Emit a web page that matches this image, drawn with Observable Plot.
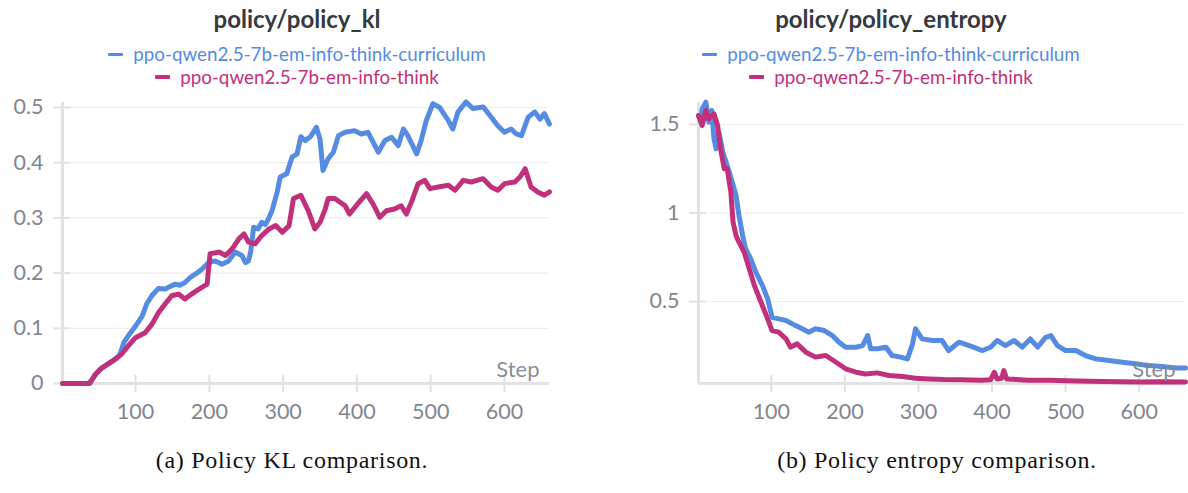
<!DOCTYPE html>
<html><head><meta charset="utf-8">
<script src="https://cdn.jsdelivr.net/npm/d3@7"></script>
<script src="https://cdn.jsdelivr.net/npm/@observablehq/plot@0.6"></script>
<style>
body{margin:0;background:#fff;}
#wrap{position:relative;width:1188px;height:493px;overflow:hidden;font-family:Lato,sans-serif;background:#fff;}
.panel{position:absolute;top:0;width:594px;height:493px;}
.title{position:absolute;top:5px;left:0;width:100%;text-align:center;font-weight:700;font-size:24px;line-height:28px;color:#363a40;}
.legend{position:absolute;top:43px;left:0;width:100%;display:flex;flex-direction:column;align-items:center;font-size:18.8px;line-height:22.5px;}
.legend .row{display:flex;align-items:center;white-space:nowrap;}
.legend .sw{display:inline-block;width:15px;height:3.5px;margin-right:10px;border-radius:1px;}
.chart{position:absolute;top:90px;left:0;}
.caption{position:absolute;top:446px;font-family:"Liberation Serif",serif;font-size:24px;letter-spacing:0.7px;line-height:28px;color:#111;white-space:nowrap;transform:translateX(-50%);}
</style>
</head><body>
<div id="wrap">
  <div class="panel" id="pa" style="left:0">
    <div class="title">policy/policy_kl</div>
    <div class="legend" id="lega"></div>
    <div class="chart" id="ca"></div>
  </div>
  <div class="panel" id="pb" style="left:594px">
    <div class="title">policy/policy_entropy</div>
    <div class="legend" id="legb"></div>
    <div class="chart" id="cb"></div>
  </div>
  <div class="caption" style="left:292px">(a) Policy KL comparison.</div>
  <div class="caption" style="left:937px">(b) Policy entropy comparison.</div>
</div>
<script>
// ---- series names and colours ----
const seriesNames = ["ppo-qwen2.5-7b-em-info-think-curriculum", "ppo-qwen2.5-7b-em-info-think"];
const seriesColors = ["#558be3", "#c1307a"];

// ---- policy_kl ----
const klCurriculumSteps = [1,36,41,47,54,60,68,74,79,84,90,100,109,115,122,131,140,147,154,160,167,174,181,190,199,208,217,226,235,244,249,253,256,260,266,271,276,281,285,292,296,305,312,319,324,330,337,345,350,354,361,368,375,384,397,406,415,422,429,438,447,456,463,469,481,487,494,503,512,524,530,537,548,557,571,580,591,600,609,616,623,632,641,648,654,661];
const klCurriculum = [0,0,0.007,0.018,0.028,0.033,0.04,0.045,0.053,0.074,0.086,0.104,0.122,0.144,0.159,0.172,0.171,0.176,0.18,0.178,0.183,0.192,0.198,0.207,0.219,0.222,0.216,0.222,0.238,0.232,0.219,0.222,0.238,0.283,0.28,0.292,0.288,0.301,0.313,0.347,0.374,0.38,0.41,0.416,0.447,0.44,0.447,0.464,0.443,0.386,0.407,0.419,0.449,0.455,0.458,0.452,0.455,0.437,0.419,0.44,0.446,0.431,0.461,0.449,0.416,0.44,0.476,0.507,0.5,0.476,0.461,0.492,0.51,0.498,0.501,0.486,0.467,0.455,0.461,0.452,0.449,0.482,0.492,0.479,0.489,0.47];
const klThinkSteps = [1,38,45,54,68,81,90,100,113,122,131,140,149,158,167,176,186,197,201,213,222,231,240,247,253,262,271,281,290,299,308,314,324,334,343,350,357,361,370,384,390,399,413,422,431,440,451,460,467,474,483,492,499,510,524,533,544,555,571,582,591,600,614,621,628,636,645,654,661];
const klThink = [0,0,0.016,0.028,0.04,0.053,0.068,0.083,0.092,0.107,0.128,0.144,0.159,0.162,0.153,0.162,0.171,0.18,0.235,0.238,0.232,0.244,0.262,0.271,0.256,0.253,0.268,0.28,0.286,0.274,0.286,0.335,0.341,0.313,0.28,0.292,0.316,0.335,0.335,0.322,0.307,0.322,0.344,0.325,0.301,0.313,0.316,0.322,0.307,0.329,0.362,0.368,0.353,0.356,0.359,0.35,0.368,0.365,0.371,0.356,0.35,0.362,0.365,0.374,0.389,0.356,0.347,0.341,0.347];
const klXTicks = [100,200,300,400,500,600];
const klYTicks = [0,0.1,0.2,0.3,0.4,0.5];

// ---- policy_entropy ----
const entCurriculumSteps = [1,4,6,11,15,19,22,25,29,34,40,47,52,56,61,65,72,79,88,95,101,110,120,133,142,151,160,172,183,192,201,215,224,231,235,244,256,264,276,285,292,296,305,319,332,341,355,369,387,398,407,418,430,441,452,462,473,480,489,500,514,527,541,559,577,595,613,631,650,663];
const entCurriculum = [1.55,1.532,1.588,1.626,1.513,1.579,1.419,1.362,1.45,1.344,1.268,1.174,1.099,0.986,0.873,0.798,0.741,0.666,0.59,0.515,0.411,0.402,0.393,0.364,0.346,0.327,0.346,0.336,0.308,0.27,0.242,0.242,0.251,0.308,0.233,0.233,0.242,0.195,0.186,0.176,0.261,0.346,0.289,0.28,0.28,0.223,0.27,0.251,0.223,0.242,0.28,0.251,0.28,0.242,0.289,0.242,0.298,0.308,0.251,0.223,0.223,0.195,0.176,0.167,0.157,0.148,0.138,0.133,0.125,0.125];
const entThinkSteps = [1,6,11,15,22,27,31,36,40,45,48,52,56,63,70,77,86,95,101,110,120,126,135,147,160,174,188,201,215,228,244,260,278,296,314,335,360,385,398,403,407,413,416,420,450,480,500,550,600,630,663];
const entThink = [1.55,1.494,1.579,1.532,1.56,1.494,1.362,1.25,1.25,1.118,0.948,0.873,0.835,0.779,0.685,0.59,0.496,0.402,0.336,0.327,0.289,0.242,0.261,0.214,0.186,0.195,0.157,0.12,0.101,0.091,0.097,0.082,0.076,0.067,0.063,0.059,0.058,0.056,0.058,0.1,0.062,0.066,0.11,0.062,0.056,0.055,0.052,0.048,0.045,0.047,0.045];
const entXTicks = [100,200,300,400,500,600];
const entYTicks = [0.5,1,1.5];

const AXIS = "#e2e2e5", GRID = "#ededee", LABEL = "#7f8691";

function toRows(steps, values){ return steps.map((s,i)=>({step:s, value:values[i]})); }

function legend(el){
  seriesNames.forEach((n,i)=>{
    const row = document.createElement("div"); row.className="row"; row.style.color = seriesColors[i];
    const sw = document.createElement("span"); sw.className="sw"; sw.style.background = seriesColors[i];
    row.appendChild(sw); row.appendChild(document.createTextNode(n)); el.appendChild(row);
  });
}

function chart({curr, think, xDomain, yDomain, xTicks, yTicks, marginLeft, marginRight}){
  return Plot.plot({
    width: 594, height: 345, marginLeft, marginRight, marginTop: 12, marginBottom: 52,
    x: {domain: xDomain},
    y: {domain: yDomain},
    style: {fontFamily: "Lato, sans-serif", fontSize: "21px", background: "transparent"},
    marks: [
      Plot.gridY(yTicks.filter(t=>t>yDomain[0]), {stroke: GRID, strokeOpacity: 1, strokeWidth: 1.2}),
      Plot.ruleX([xDomain[0]], {stroke: AXIS, strokeWidth: 3}),
      Plot.ruleY([yDomain[0]], {stroke: AXIS, strokeWidth: 3}),
      Plot.ruleX(xTicks, {x: d=>d, y1: yDomain[0], y2: yDomain[0], insetTop: -8, insetBottom: -9, stroke: AXIS, strokeWidth: 2}),
      Plot.ruleY(yTicks, {y: d=>d, x1: xDomain[0], x2: xDomain[0], insetLeft: -9, insetRight: -8, stroke: AXIS, strokeWidth: 2}),
      Plot.line(curr, {x: "step", y: "value", stroke: seriesColors[0], strokeWidth: 5, strokeLinecap: "round", strokeLinejoin: "round"}),
      Plot.line(think, {x: "step", y: "value", stroke: seriesColors[1], strokeWidth: 5, strokeLinecap: "round", strokeLinejoin: "round"}),
      Plot.axisX(xTicks, {tickSize: 0, tickPadding: 20, fontSize: 21.5, color: LABEL, label: null, tickFormat: d => String(d)}),
      Plot.axisY(yTicks, {tickSize: 0, tickPadding: 19, fontSize: 21.5, color: LABEL, label: null, tickFormat: d => String(d)}),
      Plot.text(["Step"], {frameAnchor: "bottom-right", dx: -10, dy: -7, lineAnchor: "bottom", fill: LABEL, fillOpacity: 0.95, fontSize: 22})
    ]
  });
}

legend(document.getElementById("lega"));
legend(document.getElementById("legb"));

document.getElementById("ca").appendChild(chart({
  curr: toRows(klCurriculumSteps, klCurriculum), think: toRows(klThinkSteps, klThink),
  xDomain: [1, 661], yDomain: [0, 0.509], xTicks: klXTicks, yTicks: klYTicks,
  marginLeft: 62, marginRight: 45
}));
document.getElementById("cb").appendChild(chart({
  curr: toRows(entCurriculumSteps, entCurriculum), think: toRows(entThinkSteps, entThink),
  xDomain: [1, 663], yDomain: [0.037, 1.624], xTicks: entXTicks, yTicks: entYTicks,
  marginLeft: 104, marginRight: 3
}));
</script>
</body></html>
